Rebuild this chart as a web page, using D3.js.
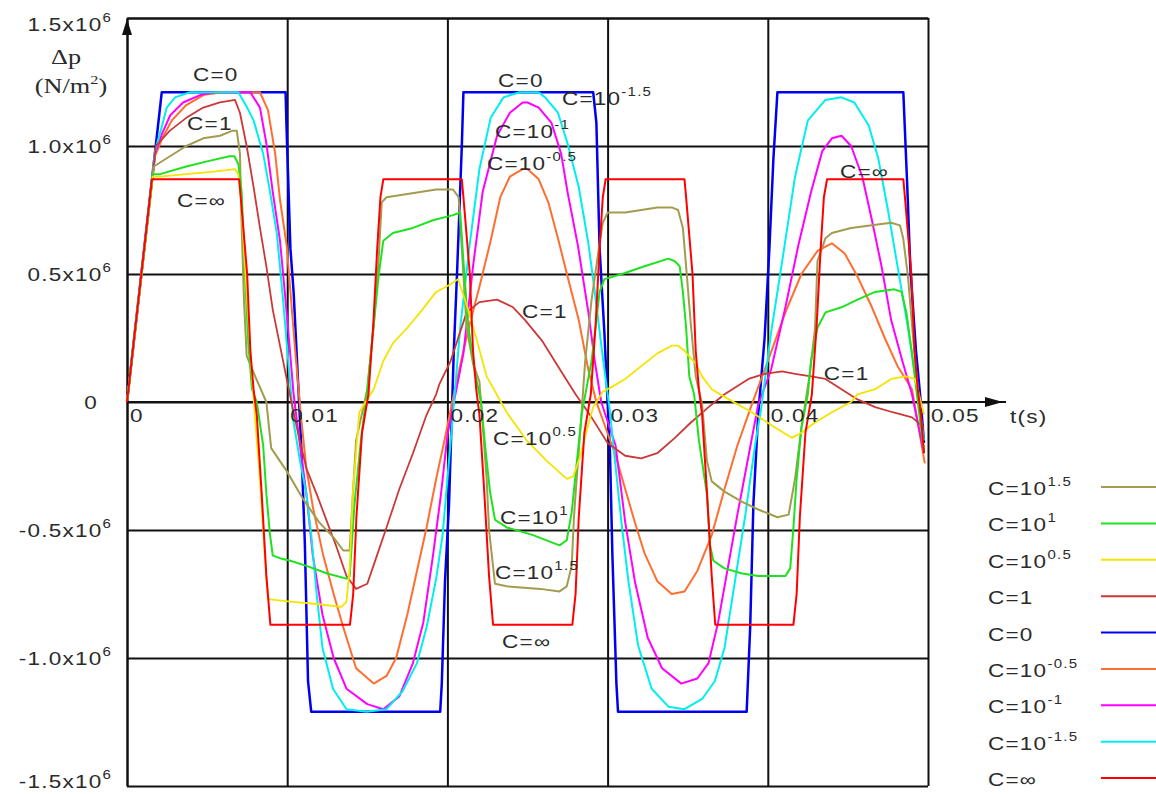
<!DOCTYPE html>
<html>
<head>
<meta charset="utf-8">
<script src="https://cdn.jsdelivr.net/npm/d3@7"></script>
<style>
  body { margin: 0; background: #fff; }
  text { font-family: "Liberation Sans", Arial, sans-serif; fill: #2a2a2a; }
  .serif { font-family: "Liberation Serif", "Times New Roman", serif; }
</style>
</head>
<body>
<svg id="chart" width="1156" height="794"></svg>
<script>
// Pressure rise Δp (10^6 N/m²) against time (ms) for several values of C.
const cZero = [[0,0],[2.17,1.21],[9.9,1.21],[9.95,1.09],[10.2,0.6],[10.4,0.43],[10.9,-0.2],[11.1,-0.55],[11.3,-1.09],[11.5,-1.21],
  [19.55,-1.21],[19.65,-1.1],[19.85,-0.7],[20.1,-0.4],[20.4,0.2],[20.6,0.5],[20.9,1.0],[21.0,1.21],
  [29.1,1.21],[29.3,1.09],[29.5,0.6],[29.8,0.27],[30.0,0],[30.15,-0.2],[30.3,-0.6],[30.55,-1.1],[30.65,-1.21],
  [38.68,-1.21],[38.9,-0.88],[39.1,-0.4],[39.4,-0.05],[39.8,0.25],[40.1,0.6],[40.35,0.95],[40.6,1.21],
  [48.46,1.21],[48.7,0.85],[48.9,0.52],[49.25,0.2],[49.55,0],[49.75,-0.16]];

const cInf = [[0,0],[1.56,0.87],[7.0,0.87],[7.1,0.8],[7.3,0.65],[7.5,0.5],[7.7,0.2],[7.9,0.05],[8.1,-0.05],[8.4,-0.35],[8.7,-0.68],[8.95,-0.87],
  [13.92,-0.87],[14.12,-0.75],[14.32,-0.45],[14.67,-0.12],[15.07,0.03],[15.37,0.3],[15.62,0.6],[15.82,0.8],[16.0,0.87],
  [20.9,0.87],[21.0,0.8],[21.2,0.65],[21.4,0.5],[21.6,0.2],[21.8,0.05],[22.0,-0.05],[22.3,-0.35],[22.6,-0.68],[22.85,-0.87],
  [27.8,-0.87],[28.0,-0.75],[28.2,-0.45],[28.55,-0.12],[28.95,0.03],[29.25,0.3],[29.5,0.6],[29.7,0.8],[29.88,0.87],
  [34.8,0.87],[34.9,0.8],[35.1,0.65],[35.3,0.5],[35.5,0.2],[35.7,0.05],[35.9,-0.05],[36.2,-0.35],[36.5,-0.68],[36.72,-0.87],
  [41.6,-0.87],[41.8,-0.75],[42.0,-0.45],[42.35,-0.12],[42.75,0.03],[43.05,0.3],[43.3,0.6],[43.5,0.8],[43.7,0.87],
  [48.46,0.87],[48.56,0.8],[48.76,0.65],[48.96,0.5],[49.16,0.2],[49.36,0.05],[49.56,-0.05],[49.75,-0.2]];

const cTen15 = [[0,0],[1.67,0.92],[2.68,0.96],[3.7,1.0],[4.76,1.03],[5.8,1.04],[6.6,1.06],[6.85,1.06],[7.05,0.97],[7.16,0.68],[7.3,0.4],[7.47,0.18],
  [8.0,0.1],[8.7,0.0],[9.0,-0.18],[9.97,-0.27],[11.0,-0.38],[12.0,-0.47],[12.9,-0.53],[13.5,-0.58],[13.9,-0.58],[14.1,-0.36],[14.3,-0.15],
  [15.0,0.05],[15.4,0.3],[15.7,0.55],[15.9,0.78],[16.2,0.8],[17.2,0.81],[18.3,0.82],[19.3,0.83],[20.35,0.83],[20.7,0.8],[20.9,0.6],
  [21.2,0.29],[21.6,0.15],[22.0,0.08],[22.45,-0.3],[22.6,-0.5],[22.97,-0.71],[23.7,-0.72],[25.8,-0.73],[27.0,-0.74],[27.45,-0.72],
  [27.76,-0.64],[27.9,-0.45],[28.07,-0.3],[28.3,-0.11],[28.6,0.16],[29.0,0.4],[29.5,0.62],[29.7,0.7],[30.0,0.74],[31.1,0.74],
  [32.1,0.75],[33.1,0.76],[34.0,0.76],[34.4,0.75],[34.7,0.68],[34.9,0.53],[35.2,0.3],[35.5,0.1],[35.9,-0.01],[36.2,-0.23],
  [36.5,-0.31],[37.3,-0.35],[38.4,-0.39],[39.4,-0.42],[40.6,-0.45],[41.3,-0.44],[41.5,-0.37],[41.7,-0.3],[41.9,-0.2],[42.1,-0.1],
  [42.6,0.1],[42.95,0.29],[43.1,0.55],[43.6,0.64],[44.0,0.66],[45.2,0.68],[46.5,0.69],[47.7,0.7],[48.25,0.69],[48.45,0.64],
  [48.75,0.49],[49.1,0.23],[49.75,-0.2]];

const cTen1 = [[0,0],[1.62,0.89],[2.06,0.89],[3.7,0.92],[5.0,0.94],[6.4,0.96],[6.7,0.96],[6.95,0.93],[7.16,0.82],[7.37,0.49],[7.57,0.23],
  [7.8,0.05],[8.1,0.0],[8.5,-0.17],[8.7,-0.36],[8.93,-0.52],[9.1,-0.6],[9.55,-0.61],[10.2,-0.62],[11.2,-0.64],[12.5,-0.67],[13.7,-0.69],
  [13.9,-0.68],[14.2,-0.4],[14.6,-0.15],[15.0,0.05],[15.4,0.3],[15.7,0.49],[16.0,0.63],[16.6,0.66],[17.85,0.68],[19.1,0.71],
  [20.35,0.73],[20.8,0.74],[21.0,0.55],[21.3,0.3],[21.7,0.12],[22.1,0.0],[22.4,-0.2],[22.66,-0.35],[22.97,-0.46],[23.7,-0.49],
  [25.35,-0.52],[27.0,-0.56],[27.45,-0.54],[27.76,-0.43],[28.07,-0.24],[28.4,-0.04],[29.0,0.16],[29.5,0.43],[29.8,0.48],[30.9,0.5],
  [32.3,0.53],[33.8,0.56],[34.2,0.55],[34.5,0.53],[34.7,0.43],[34.9,0.29],[35.1,0.1],[35.4,0.03],[35.7,-0.15],[36.2,-0.36],
  [36.4,-0.56],[36.6,-0.62],[37.3,-0.65],[38.4,-0.67],[39.4,-0.68],[41.1,-0.68],[41.4,-0.65],[41.6,-0.49],[41.8,-0.3],[42.1,-0.1],
  [42.5,0.03],[42.7,0.16],[43.1,0.29],[43.6,0.35],[44.6,0.37],[45.6,0.4],[46.7,0.43],[47.9,0.44],[48.35,0.43],[48.65,0.35],
  [49.0,0.19],[49.75,-0.2]];

const cTen05 = [[0,0],[1.6,0.88],[2.06,0.88],[3.7,0.89],[5.4,0.9],[6.74,0.91],[6.95,0.89],[7.1,0.8],[7.4,0.5],[7.8,0.1],[8.1,-0.15],
  [8.3,-0.3],[8.6,-0.6],[8.8,-0.77],[10.2,-0.78],[12.0,-0.79],[13.4,-0.8],[13.7,-0.78],[13.9,-0.65],[14.1,-0.35],[14.5,-0.04],
  [15.4,0.05],[16.0,0.16],[16.6,0.23],[17.5,0.29],[18.3,0.35],[19.3,0.43],[20.2,0.46],[20.66,0.48],[21.2,0.38],[21.8,0.25],
  [22.45,0.1],[23.7,-0.04],[24.95,-0.15],[26.2,-0.23],[27.45,-0.3],[27.86,-0.29],[28.3,-0.21],[28.7,-0.11],[29.1,-0.02],
  [29.7,0.04],[30.3,0.06],[31.1,0.09],[32.1,0.14],[33.1,0.19],[34.0,0.22],[34.4,0.22],[34.8,0.2],[35.5,0.15],[35.9,0.1],
  [36.5,0.05],[37.3,0.02],[39.0,-0.04],[40.45,-0.1],[41.5,-0.14],[42.1,-0.12],[42.95,-0.08],[44.0,-0.04],[45.2,0.0],[45.6,0.03],
  [46.7,0.05],[47.7,0.09],[48.6,0.1],[49.2,0.09],[49.75,-0.05]];

const cOne = [[0,0],[1.8,1.0],[2.68,1.06],[3.7,1.11],[4.76,1.15],[5.8,1.17],[6.74,1.18],[7.05,1.13],[7.47,1.0],[7.9,0.84],[8.3,0.68],
  [8.7,0.53],[9.1,0.36],[9.55,0.22],[9.97,0.09],[10.6,-0.1],[11.2,-0.26],[11.84,-0.36],[12.5,-0.47],[13.1,-0.57],[13.7,-0.68],
  [14.3,-0.73],[15.0,-0.71],[15.6,-0.6],[16.2,-0.49],[17.0,-0.34],[17.85,-0.2],[18.7,-0.05],[19.3,0.03],[19.5,0.07],[20.2,0.16],
  [21.2,0.35],[22.0,0.39],[23.1,0.4],[24.1,0.37],[24.85,0.32],[25.9,0.24],[26.9,0.14],[28.0,0.03],[29.0,-0.06],[30.0,-0.16],
  [31.1,-0.21],[32.1,-0.22],[33.1,-0.2],[34.2,-0.14],[35.2,-0.08],[36.3,-0.02],[37.3,0.03],[38.8,0.09],[39.8,0.11],[40.9,0.12],
  [41.7,0.11],[42.7,0.1],[43.6,0.09],[44.6,0.05],[45.6,0.01],[46.7,-0.02],[47.8,-0.04],[49.0,-0.06],[49.75,-0.1]];

const cTenM05 = [[0,0],[1.75,0.96],[2.2,1.03],[2.8,1.1],[3.7,1.16],[4.8,1.2],[6.0,1.21],[8.3,1.21],[8.8,1.14],[9.25,0.97],[9.55,0.79],
  [9.97,0.61],[10.5,0.2],[10.85,-0.05],[11.2,-0.26],[11.6,-0.41],[12.25,-0.6],[12.9,-0.75],[13.5,-0.88],[14.3,-1.04],[15.4,-1.1],
  [16.2,-1.07],[16.8,-1.0],[17.5,-0.83],[18.1,-0.66],[18.7,-0.49],[19.3,-0.3],[19.85,-0.14],[20.3,0.0],[21.0,0.2],[21.5,0.33],
  [22.0,0.45],[22.7,0.63],[23.3,0.8],[23.9,0.88],[24.7,0.91],[25.0,0.91],[25.7,0.87],[26.3,0.78],[26.9,0.64],[27.5,0.49],
  [28.2,0.32],[28.8,0.125],[29.3,0.0],[30.5,-0.21],[31.1,-0.34],[31.7,-0.47],[32.3,-0.59],[33.1,-0.7],[34.0,-0.75],[34.8,-0.74],
  [35.6,-0.66],[36.5,-0.52],[37.3,-0.34],[38.1,-0.17],[39.0,-0.01],[40.0,0.16],[41.1,0.35],[42.1,0.5],[43.1,0.59],[44.0,0.62],
  [44.8,0.58],[45.6,0.49],[46.5,0.37],[47.3,0.25],[48.1,0.14],[49.0,0.05],[49.8,-0.24]];

const cTenM1 = [[0,0],[1.75,0.97],[2.2,1.05],[2.7,1.12],[3.5,1.17],[4.6,1.2],[5.5,1.21],[7.7,1.21],[8.3,1.15],[8.7,1.01],[9.1,0.82],
  [9.55,0.63],[9.85,0.43],[10.05,0.29],[10.4,0.03],[10.8,-0.17],[11.2,-0.36],[11.6,-0.6],[12.2,-0.83],[12.9,-1.0],[13.7,-1.12],
  [15.0,-1.18],[16.0,-1.2],[17.0,-1.15],[17.85,-1.02],[18.5,-0.86],[19.1,-0.6],[19.6,-0.36],[20.0,-0.13],[21.0,0.19],[21.6,0.53],
  [22.2,0.82],[23.1,1.04],[23.9,1.13],[24.7,1.17],[25.0,1.17],[25.7,1.15],[26.5,1.09],[27.1,0.97],[27.5,0.82],[28.15,0.61],
  [28.8,0.35],[29.2,0.16],[29.6,0.0],[30.5,-0.17],[31.1,-0.47],[31.7,-0.7],[32.5,-0.92],[33.4,-1.04],[34.6,-1.1],[35.6,-1.08],
  [36.3,-1.02],[36.9,-0.86],[37.5,-0.65],[38.1,-0.44],[38.8,-0.21],[39.4,-0.01],[40.2,0.125],[41.1,0.37],[41.9,0.61],[42.7,0.82],
  [43.4,0.98],[44.0,1.03],[44.6,1.04],[45.2,1.0],[45.9,0.88],[46.5,0.71],[47.1,0.53],[47.7,0.32],[48.4,0.16],[49.0,0.03],[49.75,-0.2]];

const cTenM15 = [[0,0],[1.75,0.98],[2.17,1.075],[2.48,1.15],[3.0,1.19],[3.93,1.21],[6.95,1.21],[7.5,1.15],[7.9,1.1],[8.5,0.97],
  [8.93,0.82],[9.35,0.66],[9.74,0.4],[9.97,0.23],[10.4,-0.08],[10.8,-0.23],[11.2,-0.36],[11.5,-0.52],[11.84,-0.75],[12.2,-0.96],
  [12.86,-1.12],[13.7,-1.2],[14.96,-1.21],[16.2,-1.2],[17.2,-1.13],[18.1,-1.02],[18.7,-0.88],[19.3,-0.69],[19.7,-0.52],[20.25,-0.12],
  [20.8,0.29],[21.4,0.62],[22.0,0.91],[22.7,1.11],[23.5,1.19],[24.5,1.21],[25.7,1.21],[26.1,1.19],[26.9,1.13],[27.5,1.01],
  [28.2,0.84],[28.8,0.62],[29.2,0.43],[29.65,0.2],[30.15,-0.04],[30.46,-0.23],[30.9,-0.49],[31.3,-0.7],[31.9,-0.95],[32.75,-1.12],
  [33.8,-1.19],[34.8,-1.2],[35.9,-1.16],[36.7,-1.09],[37.3,-0.96],[37.95,-0.7],[38.6,-0.44],[39.2,-0.17],[39.6,-0.02],[40.2,0.27],
  [40.9,0.55],[41.7,0.88],[42.5,1.1],[43.6,1.18],[44.6,1.19],[45.4,1.17],[46.3,1.08],[46.9,0.95],[47.5,0.75],[48.1,0.53],
  [48.75,0.29],[49.2,0.1],[49.75,-0.15]];

// Axis ticks and their labels
const xTicks = [0, 0.01, 0.02, 0.03, 0.04, 0.05];
const xTickText = ["0", "0.01", "0.02", "0.03", "0.04", "0.05"];
const yTicks = [1.5, 1.0, 0.5, 0, -0.5, -1.0, -1.5];
const yTickText = ["1.5x10", "1.0x10", "0.5x10", "0", "-0.5x10", "-1.0x10", "-1.5x10"];
const yTickSup = ["6", "6", "6", "", "6", "6", "6"];

// Series: label (base + exponent), data and stroke colour
const series = {
  ten15:  { base: "C=10", sup: "1.5",  data: cTen15,  color: "#a39c4f", width: 2 },
  ten1:   { base: "C=10", sup: "1",    data: cTen1,   color: "#1fe21f", width: 2 },
  ten05:  { base: "C=10", sup: "0.5",  data: cTen05,  color: "#f5e400", width: 1.8 },
  one:    { base: "C=1",  sup: "",     data: cOne,    color: "#cc3838", width: 1.8 },
  zero:   { base: "C=0",  sup: "",     data: cZero,   color: "#0000f0", width: 2.5 },
  tenM05: { base: "C=10", sup: "-0.5", data: cTenM05, color: "#ff6e30", width: 2 },
  tenM1:  { base: "C=10", sup: "-1",   data: cTenM1,  color: "#ff00ff", width: 2 },
  tenM15: { base: "C=10", sup: "-1.5", data: cTenM15, color: "#00eeee", width: 2 },
  inf:    { base: "C=\u221E", sup: "", data: cInf,    color: "#ff0000", width: 2 }
};
const legendOrder = ["ten15", "ten1", "ten05", "one", "zero", "tenM05", "tenM1", "tenM15", "inf"];
const drawOrder = ["zero", "tenM05", "tenM1", "tenM15", "one", "ten15", "ten1", "ten05", "inf"];

// In-plot curve annotations, anchored in data units (ms, 10^6 N/m²)
const notes = [
  { t: 4.12, p: 1.254, key: "zero" }, { t: 3.75, p: 1.062, key: "one" }, { t: 3.12, p: 0.762, key: "inf" },
  { t: 23.16, p: 1.23, key: "zero" }, { t: 27.15, p: 1.16, key: "tenM15" }, { t: 22.97, p: 1.03, key: "tenM1" },
  { t: 22.47, p: 0.906, key: "tenM05" }, { t: 44.5, p: 0.875, key: "inf" }, { t: 24.66, p: 0.328, key: "one" },
  { t: 43.5, p: 0.086, key: "one" }, { t: 22.85, p: -0.168, key: "ten05" }, { t: 23.28, p: -0.477, key: "ten1" },
  { t: 22.97, p: -0.69, key: "ten15" }, { t: 23.41, p: -0.96, key: "inf" }
];

const SX = 1.25;       // horizontal stretch of the lettering
const FS = 18;         // base font size
const SUP_FS = 12;

const svg = d3.select("#chart");
const x = d3.scaleLinear().domain([0, 0.05]).range([127, 928]);
const y = d3.scaleLinear().domain([-1.5, 1.5]).range([786, 18]);

// Writes "base" with an optional raised exponent, left edge (or right edge) at (px, py)
function writeLabel(parent, px, py, base, sup, anchor) {
  const g = parent.append("g").attr("transform", `translate(${px},${py}) scale(${SX},1)`);
  const t = g.append("text")
    .attr("font-size", FS)
    .attr("letter-spacing", 1)
    .attr("text-anchor", anchor || "start");
  t.append("tspan").text(base);
  if (sup) t.append("tspan").attr("font-size", SUP_FS).attr("dy", -9).text(sup);
  return t;
}

// Grid: vertical lines from the bottom axis generator, horizontal from the left one
svg.append("g")
  .attr("transform", `translate(0,${y.range()[1]})`)
  .call(d3.axisBottom(x).tickValues(xTicks).tickSize(y.range()[0] - y.range()[1]).tickSizeOuter(0).tickFormat(""));
svg.append("g")
  .attr("transform", `translate(${x.range()[0]},0)`)
  .call(d3.axisLeft(y).tickValues(yTicks).tickSize(-(x.range()[1] - x.range()[0])).tickSizeOuter(0).tickFormat(""));
svg.selectAll(".domain, .tick line").attr("stroke", "#111").attr("stroke-width", 2);

// Time axis extended past the frame with an arrow
svg.append("line").attr("x1", x(0)).attr("x2", 1006).attr("y1", y(0)).attr("y2", y(0))
  .attr("stroke", "#111").attr("stroke-width", 2);
svg.append("path").attr("d", `M1003,${y(0)} L985,${y(0) - 5} L985,${y(0) + 5} Z`).attr("fill", "#111");
// Arrow at the top of the pressure axis
svg.append("path").attr("d", `M${x(0)},19 L${x(0) - 5},35 L${x(0) + 5},35 Z`).attr("fill", "#111");

// Curves
const line = d3.line().x(d => x(d[0] / 1000)).y(d => y(d[1]));
const curves = svg.append("g").attr("fill", "none").attr("stroke-linejoin", "round");
drawOrder.forEach(k => {
  const s = series[k];
  curves.append("path").datum(s.data).attr("d", line)
    .attr("stroke", s.color).attr("stroke-width", s.width);
});

// Tick labels
const labels = svg.append("g");
xTicks.forEach((v, i) => writeLabel(labels, x(v) + 3, y(0) + 20, xTickText[i], "", "start"));
yTicks.forEach((v, i) => {
  const py = Math.min(Math.max(y(v) + 6.5, 31), 788);
  if (yTickSup[i]) writeLabel(labels, 112, py, yTickText[i], yTickSup[i], "end");
  else writeLabel(labels, 98, py, yTickText[i], "", "end");
});
writeLabel(labels, 1010, y(0) + 21, "t(s)", "", "start");

// Pressure axis title
const ttl = svg.append("g");
ttl.append("g").attr("transform", `translate(66,64) scale(${SX},1)`)
  .append("text").attr("class", "serif").attr("font-size", 21).attr("text-anchor", "middle").text("\u0394p");
const unit = ttl.append("g").attr("transform", `translate(71,93) scale(${SX},1)`)
  .append("text").attr("class", "serif").attr("font-size", 21).attr("text-anchor", "middle");
unit.append("tspan").text("(N/m");
unit.append("tspan").attr("font-size", 13).attr("dy", -9).text("2");
unit.append("tspan").attr("dy", 9).text(")");

// Annotations beside the curves
notes.forEach(n => {
  const s = series[n.key];
  writeLabel(svg, x(n.t / 1000), y(n.p), s.base, s.sup, "start");
});

// Legend
const legY = d3.scaleLinear().domain([0, legendOrder.length - 1]).range([487, 778]);
const legend = svg.append("g");
legendOrder.forEach((k, i) => {
  const s = series[k];
  const ly = legY(i);
  writeLabel(legend, 988, ly + 8, s.base, s.sup, "start");
  legend.append("line").attr("x1", 1101).attr("x2", 1156).attr("y1", ly).attr("y2", ly)
    .attr("stroke", s.color).attr("stroke-width", 2);
});
</script>
</body>
</html>
